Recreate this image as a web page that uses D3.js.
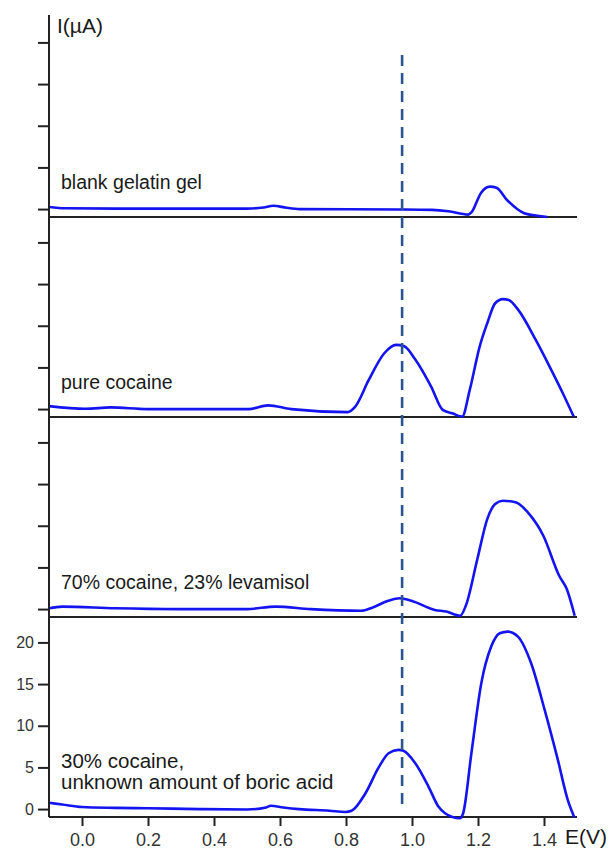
<!DOCTYPE html>
<html>
<head>
<meta charset="utf-8">
<script src="https://cdn.jsdelivr.net/npm/d3@7"></script>
<style>
  body { margin: 0; background: #fff; }
  svg { display: block; font-family: "Liberation Sans", Arial, sans-serif; }
</style>
</head>
<body>
<div id="chart"></div>
<script>
// Voltammograms as [E (V), I (µA)]
const blankGel = [
  [-0.1, 0.25], [-0.05, 0.1], [0.1, 0.05], [0.3, 0.05], [0.5, 0.05], [0.55, 0.2],
  [0.58, 0.4], [0.62, 0.15], [0.66, 0.0], [0.96, -0.05], [1.06, -0.1], [1.11, -0.26],
  [1.17, -0.66], [1.18, -0.4], [1.21, 2.0], [1.236, 2.7], [1.256, 2.55], [1.29, 1.0],
  [1.34, -0.5], [1.38, -0.8], [1.41, -0.95]
];
const pureCocaine = [
  [-0.1, 0.36], [0.011, 0.04], [0.087, 0.2], [0.199, 0.0], [0.505, 0.0], [0.564, 0.45],
  [0.634, 0.0], [0.805, -0.36], [0.828, 0.3], [0.869, 3.5], [0.916, 6.7], [0.952, 7.7],
  [0.975, 7.56], [1.011, 5.9], [1.058, 2.7], [1.093, -0.1], [1.122, -0.5], [1.152, -0.9],
  [1.175, 2.3], [1.205, 7.5], [1.228, 10.3], [1.252, 12.7], [1.275, 13.2], [1.293, 13.1],
  [1.322, 11.9], [1.375, 8.3], [1.422, 4.7], [1.457, 1.9], [1.49, -0.9]
];
const cocaineLevamisol = [
  [-0.1, 0.1], [-0.06, 0.3], [0.1, 0.1], [0.3, 0.0], [0.5, 0.0], [0.587, 0.3],
  [0.693, 0.0], [0.846, -0.2], [0.881, 0.2], [0.928, 1.0], [0.963, 1.3], [0.998, 1.0],
  [1.069, -0.1], [1.104, -0.3], [1.146, -0.8], [1.163, 0.4], [1.198, 6.0], [1.228, 10.8],
  [1.252, 12.6], [1.275, 13.0], [1.316, 12.8], [1.351, 11.6], [1.398, 8.8], [1.446, 4.0],
  [1.469, 2.4], [1.493, -0.8]
];
const cocaineBoric = [
  [-0.1, 0.75], [-0.06, 0.55], [0.0, 0.25], [0.1, 0.15], [0.2, 0.1], [0.356, 0.0],
  [0.5, -0.05], [0.558, 0.2], [0.572, 0.4], [0.61, 0.2], [0.658, 0.0], [0.75, -0.2],
  [0.798, -0.35], [0.817, -0.2], [0.859, 1.9], [0.899, 5.0], [0.929, 6.7], [0.959, 7.1],
  [0.974, 7.0], [1.01, 5.5], [1.05, 2.7], [1.08, 0.3], [1.10, -0.5], [1.145, -1.1],
  [1.155, -0.5], [1.18, 6.7], [1.21, 15.1], [1.24, 19.5], [1.266, 21.1], [1.29, 21.3],
  [1.321, 20.7], [1.361, 17.5], [1.402, 11.9], [1.442, 5.9], [1.472, 1.1], [1.492, -1.0]
];

const seriesList = [blankGel, pureCocaine, cocaineLevamisol, cocaineBoric];
const seriesLabels = [
  ["blank gelatin gel"],
  ["pure cocaine"],
  ["70% cocaine, 23% levamisol"],
  ["30% cocaine,", "unknown amount of boric acid"]
];
const xTicks = [0.0, 0.2, 0.4, 0.6, 0.8, 1.0, 1.2, 1.4];
const yTicks = [0, 5, 10, 15, 20];
const markerE = 0.97;

const width = 611, height = 852;
const left = 49, right = 577;
const bottom = 817, panelH = 200;

const svg = d3.select('#chart').append('svg')
  .attr('width', width)
  .attr('height', height);

const x = d3.scaleLinear().domain([-0.1, 1.5]).range([left, right]);

// one y scale per stacked panel, top panel first
const yScales = seriesList.map((s, i) => {
  const b = bottom - (seriesList.length - 1 - i) * panelH;
  return d3.scaleLinear().domain([-0.95, 23.05]).range([b, b - panelH]);
});

const line = d3.line().curve(d3.curveMonotoneX);

seriesList.forEach((series, i) => {
  const y = yScales[i];
  const isLast = i === seriesList.length - 1;

  // left ticks of this panel
  const yAxis = d3.axisLeft(y).tickValues(yTicks).tickSize(11).tickSizeOuter(0)
    .tickFormat(isLast ? d3.format('d') : '');
  const gy = svg.append('g')
    .attr('transform', `translate(${left},0)`)
    .call(yAxis);
  gy.select('.domain').remove();
  gy.selectAll('line').attr('stroke', '#222').attr('stroke-width', 2);
  gy.selectAll('text').attr('x', -15).attr('font-size', 16).attr('fill', '#333');

  // panel baseline
  svg.append('line')
    .attr('x1', left).attr('x2', right)
    .attr('y1', y.range()[0]).attr('y2', y.range()[0])
    .attr('stroke', '#222').attr('stroke-width', 2);

  // curve
  svg.append('path')
    .attr('d', line.x(d => x(d[0])).y(d => y(d[1]))(series))
    .attr('fill', 'none')
    .attr('stroke', '#1414f0')
    .attr('stroke-width', 2.6)
    .attr('stroke-linejoin', 'round');

  // label
  const lab = svg.append('text')
    .attr('x', 60)
    .attr('font-size', isLast ? 20.5 : 19.5)
    .attr('fill', '#1a1a1a');
  const lines = seriesLabels[i];
  lines.forEach((t, k) => {
    lab.append('tspan')
      .attr('x', 61)
      .attr('y', y.range()[0] - 28 - (lines.length - 1 - k) * 21)
      .text(t);
  });
});

// x axis on the bottom panel
const xAxis = d3.axisBottom(x).tickValues(xTicks).tickSize(9).tickSizeOuter(0)
  .tickFormat(d3.format('.1f'));
const gx = svg.append('g')
  .attr('transform', `translate(0,${bottom})`)
  .call(xAxis);
gx.select('.domain').remove();
gx.selectAll('line').attr('stroke', '#222').attr('stroke-width', 2);
gx.selectAll('text').attr('y', 16).attr('dy', '0.71em').attr('font-size', 18).attr('fill', '#333');

// continuous left axis line
svg.append('line')
  .attr('x1', left).attr('x2', left)
  .attr('y1', 15).attr('y2', bottom)
  .attr('stroke', '#222').attr('stroke-width', 2);

// dashed marker at the cocaine oxidation potential
svg.append('line')
  .attr('x1', x(markerE)).attr('x2', x(markerE))
  .attr('y1', yScales[0](18.5)).attr('y2', yScales[3](0))
  .attr('stroke', '#2b5590')
  .attr('stroke-width', 2.6)
  .attr('stroke-dasharray', '11,7');

// axis titles
svg.append('text')
  .attr('x', 57).attr('y', 33)
  .attr('font-size', 21).attr('fill', '#1a1a1a')
  .text('I(µA)');
svg.append('text')
  .attr('x', 565).attr('y', 844)
  .attr('font-size', 21).attr('fill', '#1a1a1a')
  .text('E(V)');
</script>
</body>
</html>
